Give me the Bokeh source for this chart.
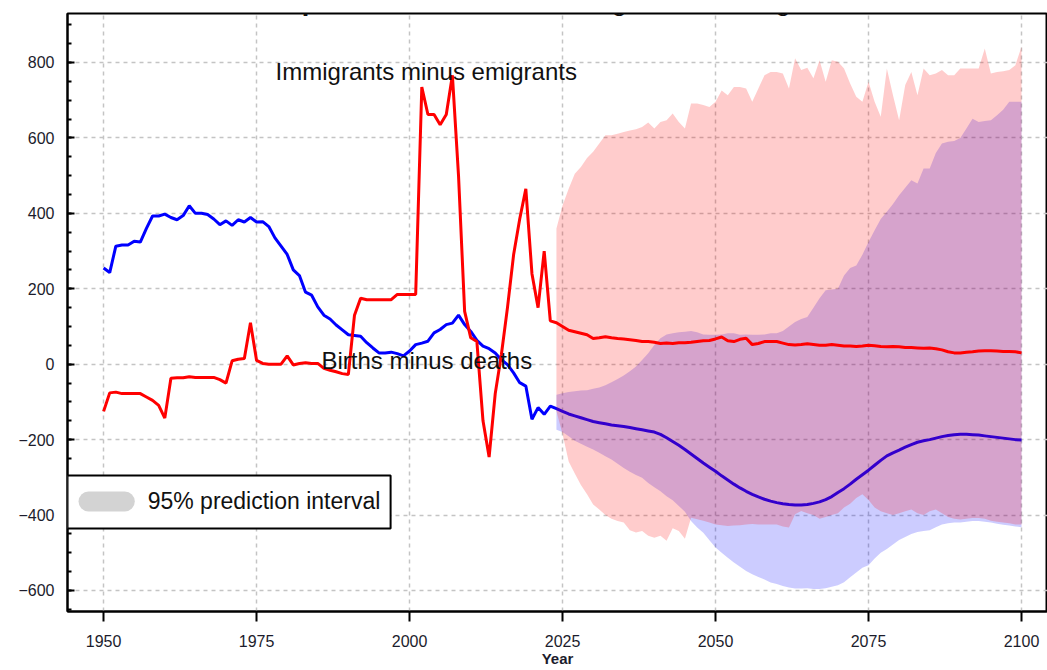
from bokeh.plotting import figure
from bokeh.models import Range1d, SingleIntervalTicker, FixedTicker, Label, BoxAnnotation
from bokeh.embed import file_html
from bokeh.resources import INLINE

# ---------------- data ----------------
hist_years = list(range(1950, 2024))
births_minus_deaths_hist = [
    255, 243, 313, 316, 316, 326, 324, 360, 393, 393,
    398, 389, 383, 394, 420, 400, 400, 397, 385, 370,
    380, 368, 383, 377, 389, 377, 378, 365, 335, 313,
    291, 250, 235, 191, 183, 152, 130, 120, 104, 91,
    78, 76, 74, 57, 43, 30, 30, 32, 28, 22,
    35, 52, 56, 61, 83, 92, 105, 109, 130, 105,
    87, 63, 48, 41, 30, 12, -1, -23, -49, -58,
    -146, -115, -133, -111]
net_migration_hist = [
    -125, -76, -74, -78, -78, -78, -78, -87, -96, -109,
    -143, -37, -36, -36, -33, -35, -35, -35, -35, -41,
    -50, 9, 13, 15, 110, 10, 2, 0, 0, 0,
    22, -2, 2, 4, 2, 2, -11, -16, -20, -25,
    -27, 130, 175, 171, 171, 171, 171, 171, 185, 185,
    185, 185, 735, 662, 662, 635, 662, 766, 500, 140,
    70, 60, -150, -246, -78, 25, 150, 290, 385, 465,
    240, 150, 300, 115]

proj_years = list(range(2024, 2101))
births_minus_deaths_proj = [
    -118, -125, -132, -137, -142, -147, -152, -155, -158, -161,
    -163, -165, -168, -171, -174, -177, -180, -186, -195, -205,
    -215, -226, -238, -250, -262, -273, -284, -296, -307, -318,
    -328, -337, -345, -352, -358, -363, -367, -370, -372, -373,
    -373, -372, -369, -365, -359, -351, -340, -330, -318, -305,
    -293, -281, -268, -255, -243, -235, -228, -220, -213, -207,
    -203, -200, -196, -192, -189, -187, -186, -186, -187, -188,
    -190, -192, -194, -196, -198, -200, -201]
births_minus_deaths_lo95 = [
    -174, -180, -191, -203, -211, -219, -226, -235, -244, -253,
    -264, -275, -285, -294, -301, -315, -326, -337, -350, -361,
    -376, -391, -416, -433, -447, -467, -486, -500, -513, -526,
    -537, -548, -557, -564, -571, -579, -583, -588, -592, -595,
    -595, -594, -596, -596, -594, -590, -586, -578, -565, -552,
    -540, -533, -515, -500, -490, -478, -466, -458, -450, -445,
    -442, -440, -432, -425, -422, -420, -420, -418, -416, -416,
    -418, -420, -423, -426, -428, -430, -432]
births_minus_deaths_hi95 = [
    -81, -77, -74, -72, -70, -69, -65, -62, -56, -48,
    -39, -30, -19, -6, 11, 29, 51, 69, 79, 82,
    85, 86, 88, 85, 79, 78, 78, 79, 82, 82,
    78, 79, 78, 78, 79, 82, 82, 88, 100, 112,
    120, 125, 150, 175, 196, 198, 200, 235, 255, 262,
    290, 324, 355, 385, 404, 425, 448, 468, 488, 479,
    519, 519, 560, 585, 590, 592, 600, 625, 651, 642,
    645, 647, 660, 675, 696, 696, 696]

net_migration_proj = [
    110, 100, 90, 86, 82, 78, 68, 70, 73, 70,
    68, 67, 65, 63, 60, 60, 58, 55, 56, 55,
    57, 57, 58, 60, 62, 63, 67, 72, 62, 60,
    66, 69, 52, 55, 60, 60, 60, 56, 52, 51,
    52, 54, 52, 50, 50, 52, 50, 48, 48, 47,
    48, 50, 49, 47, 46, 47, 46, 44, 44, 43,
    42, 43, 41, 38, 33, 30, 30, 32, 33, 35,
    36, 36, 35, 34, 34, 33, 30]
net_migration_lo95 = [
    -125, -185, -258, -290, -320, -345, -372, -385, -400, -410,
    -416, -420, -440, -446, -442, -455, -460, -455, -468, -435,
    -442, -463, -407, -411, -415, -420, -425, -427, -429, -428,
    -427, -425, -424, -425, -425, -425, -425, -430, -433, -398,
    -389, -395, -400, -410, -405, -400, -395, -380, -370, -355,
    -345, -360, -380, -390, -395, -400, -395, -390, -385, -395,
    -400, -390, -385, -395, -405, -410, -412, -410, -408, -408,
    -410, -415, -418, -420, -422, -425, -425]
net_migration_hi95 = [
    360, 421, 465, 505, 523, 547, 563, 585, 607, 607,
    611, 616, 620, 623, 629, 641, 625, 642, 647, 665,
    642, 625, 691, 691, 687, 682, 696, 726, 713, 735,
    735, 731, 696, 731, 766, 775, 775, 771, 731, 811,
    780, 786, 758, 806, 749, 806, 802, 784, 744, 709,
    696, 749, 696, 656, 784, 713, 647, 740, 775, 713,
    784, 766, 771, 780, 766, 766, 784, 784, 784, 784,
    837, 771, 775, 777, 780, 793, 842]

x_ticks = [1950, 1975, 2000, 2025, 2050, 2075, 2100]

for arr in (births_minus_deaths_hist, net_migration_hist):
    assert len(arr) == len(hist_years), len(arr)
for arr in (births_minus_deaths_proj, births_minus_deaths_lo95, births_minus_deaths_hi95,
            net_migration_proj, net_migration_lo95, net_migration_hi95):
    assert len(arr) == len(proj_years), len(arr)

all_years = hist_years + proj_years
births_minus_deaths = births_minus_deaths_hist + births_minus_deaths_proj
net_migration = net_migration_hist + net_migration_proj

# ---------------- figure ----------------
FONT = "Liberation Sans"
X0, X1 = 1944.1, 2104.25
Y0, Y1 = -655.7, 929.9

p = figure(width=1047, height=670, x_range=Range1d(X0, X1), y_range=Range1d(Y0, Y1),
           output_backend="svg", toolbar_location=None,
           min_border_left=67, min_border_right=0, min_border_top=13, min_border_bottom=59)
p.background_fill_color = "white"
p.border_fill_color = "white"
p.outline_line_color = "black"
p.outline_line_width = 2
p.outline_line_alpha = 1

# axes
p.xaxis.ticker = FixedTicker(ticks=x_ticks)
p.xaxis.major_tick_out = 10
p.xaxis.major_tick_in = 0
p.xaxis.minor_tick_out = 0
p.xaxis.minor_tick_in = 0
p.xaxis.major_label_standoff = 13
p.xaxis.axis_label = "Year"
p.xaxis.axis_label_standoff = 0
p.xaxis.axis_label_text_font = FONT
p.xaxis.axis_label_text_font_size = "15px"
p.xaxis.axis_label_text_font_style = "bold"
p.xaxis.axis_label_text_color = "#1c1c2c"

p.yaxis.ticker = SingleIntervalTicker(interval=200, num_minor_ticks=4)
p.yaxis.major_tick_in = 7
p.yaxis.major_tick_out = 0
p.yaxis.minor_tick_in = 4
p.yaxis.minor_tick_out = 0
p.yaxis.major_label_standoff = 13

for ax in (p.xaxis, p.yaxis):
    ax.axis_line_color = "black"
    ax.axis_line_width = 2
    ax.major_tick_line_color = "black"
    ax.major_tick_line_width = 2
    ax.minor_tick_line_color = "black"
    ax.minor_tick_line_width = 2
    ax.major_label_text_font = FONT
    ax.major_label_text_font_size = "16px"
    ax.major_label_text_color = "#1c1c2c"

p.xgrid.ticker = FixedTicker(ticks=x_ticks)
p.ygrid.ticker = SingleIntervalTicker(interval=200)
for g in (p.xgrid, p.ygrid):
    g.grid_line_color = "#c4c4c4"
    g.grid_line_dash = "4 4"
    g.grid_line_width = 1.5

# bands and lines
p.varea(x=proj_years, y1=births_minus_deaths_lo95, y2=births_minus_deaths_hi95,
        fill_color="#0000ff", fill_alpha=0.2)
p.line(x=all_years, y=births_minus_deaths, line_color="#0000ff", line_width=3)
p.varea(x=proj_years, y1=net_migration_lo95, y2=net_migration_hi95,
        fill_color="#ff0000", fill_alpha=0.2)
p.line(x=all_years, y=net_migration, line_color="#ff0000", line_width=3)

# text annotations
p.add_layout(Label(x=1978.1, y=776, text="Immigrants minus emigrants",
                   text_font=FONT, text_font_size="24px", text_color="#111111",
                   text_baseline="middle"))
p.add_layout(Label(x=1985.6, y=10, text="Births minus deaths",
                   text_font=FONT, text_font_size="24px", text_color="#111111",
                   text_baseline="middle"))

# legend (drawn by hand to get the rounded swatch)
p.add_layout(BoxAnnotation(left=X0, right=1996.9, top=-295.1, bottom=-435.6,
                           fill_color="white", fill_alpha=1,
                           line_color="black", line_width=2, line_alpha=1))
p.add_layout(BoxAnnotation(left=1945.9, right=1955.1, top=-337.5, bottom=-390.5,
                           fill_color="#d3d3d3", fill_alpha=1, line_color=None,
                           border_radius=10))
p.add_layout(Label(x=1957.2, y=-364, text="95% prediction interval",
                   text_font=FONT, text_font_size="23px", text_color="#111111",
                   text_baseline="middle"))

# chart title (cropped at the top edge, as in the reference)
p.add_layout(Label(x=1992.9, y=963, text="Spain:", text_font=FONT, text_font_size="27px",
                   text_font_style="bold", text_color="#111111", text_align="right",
                   text_baseline="middle"))
p.add_layout(Label(x=1993.8, y=963, text="Annual natural change and net migration",
                   text_font=FONT, text_font_size="27px", text_color="#111111",
                   text_align="left", text_baseline="middle"))

open("out.html", "w").write(file_html(p, INLINE))
